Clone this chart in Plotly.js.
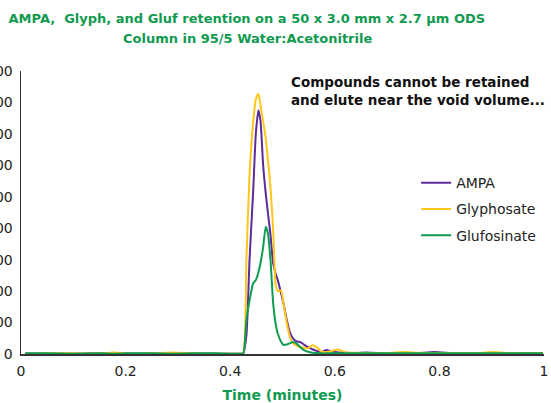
<!DOCTYPE html>
<html>
<head>
<meta charset="utf-8">
<script src="https://cdn.plot.ly/plotly-3.0.1.min.js"></script>
<style>html,body{margin:0;padding:0;background:#fff;}#chart{width:551px;height:403px;}</style>
</head>
<body>
<div id="chart"></div>
<script>
const timeMinutes = [0.008, 0.05, 0.1, 0.15, 0.18, 0.2, 0.25, 0.29, 0.33, 0.37, 0.4, 0.42, 0.425, 0.431, 0.437, 0.444, 0.449, 0.454, 0.458, 0.463, 0.468, 0.472, 0.477, 0.482, 0.487, 0.491, 0.497, 0.502, 0.508, 0.514, 0.52, 0.527, 0.534, 0.541, 0.549, 0.557, 0.565, 0.574, 0.584, 0.595, 0.607, 0.62, 0.64, 0.66, 0.7, 0.73, 0.76, 0.79, 0.83, 0.87, 0.9, 0.94, 0.998];
const ampa = [1, 1, 1, 2, 1, 1, 1, 2, 1, 1, 1, 1, 2, 60, 300, 520, 700, 775, 740, 600, 510, 450, 380, 290, 255, 235, 195, 160, 110, 70, 50, 40, 38, 30, 22, 15, 10, 6, 13, 8, 5, 4, 3, 5, 2, 2, 3, 6, 2, 2, 2, 2, 2];
const glyphosate = [1, 2, 2, 2, 5, 2, 2, 5, 2, 1, 1, 1, 3, 300, 570, 740, 810, 828, 790, 740, 685, 620, 530, 400, 220, 200, 202, 160, 100, 55, 35, 27, 22, 20, 18, 28, 22, 8, 6, 10, 14, 6, 4, 3, 3, 6, 4, 3, 3, 3, 6, 3, 2];
const glufosinate = [2, 2, 1, 2, 1, 2, 2, 1, 2, 2, 1, 1, 2, 110, 170, 225, 235, 260, 290, 340, 405, 385, 300, 165, 95, 65, 40, 29, 30, 34, 38, 33, 22, 12, 7, 4, 3, 2, 2, 2, 2, 2, 2, 2, 2, 2, 2, 2, 2, 2, 2, 2, 2];
const seriesNames = ["AMPA", "Glyphosate", "Glufosinate"];
const yTicks = [0, 100, 200, 300, 400, 500, 600, 700, 800, 900];
const xTicks = [0, 0.2, 0.4, 0.6, 0.8, 1];
const xTickText = ["0", "0.2", "0.4", "0.6", "0.8", "1"];
const titleLine1 = "AMPA,  Glyph, and Gluf retention on a 50 x 3.0 mm x 2.7 µm ODS";
const titleLine2 = "Column in 95/5 Water:Acetonitrile";

const colors = ["#5b2c9a", "#ffc61a", "#0f9b52"];
const values = [ampa, glyphosate, glufosinate];
const traces = values.map((v, i) => ({
  x: timeMinutes, y: v, type: "scatter", mode: "lines", name: seriesNames[i],
  legendgroup: "g" + i,
  line: {color: colors[i], width: 2, shape: "spline", smoothing: 0.6}
}));

const font = "DejaVu Sans, Verdana, sans-serif";
const green = "#109a50";
const layout = {
  width: 551, height: 403,
  margin: {l: 21, r: 7, t: 71, b: 49},
  paper_bgcolor: "#fff", plot_bgcolor: "#fff",
  font: {family: font, size: 14, color: "#222"},
  title: {
    text: titleLine1,
    font: {family: font, size: 13, color: green, weight: "bold"},
    x: 0.448, xanchor: "center", y: 1 - 18/403, yanchor: "middle", yref: "container"
  },
  showlegend: true,
  legend: {x: 0.7555, y: 0.66, xanchor: "left", yanchor: "top", bgcolor: "rgba(0,0,0,0)",
           font: {family: font, size: 14, color: "#222"}, tracegroupgap: 5},
  xaxis: {
    range: [0, 1], tickvals: xTicks, ticktext: xTickText, showgrid: false, zeroline: false,
    showline: true, linecolor: "#333", linewidth: 1.5, ticks: "", automargin: false,
    ticklabelstandoff: 4,
    tickfont: {family: font, size: 14, color: "#222"},
    title: {text: "Time (minutes)", font: {family: font, size: 14, color: green, weight: "bold"}, standoff: 14}
  },
  yaxis: {
    range: [0, 900], tickvals: yTicks, showgrid: false, zeroline: false,
    showline: true, linecolor: "#333", linewidth: 1.5, ticks: "", automargin: false,
    ticklabelstandoff: 4,
    tickfont: {family: font, size: 14, color: "#222"}
  },
  annotations: [{
    xref: "paper", yref: "paper", x: 0.513, y: 0.995, xanchor: "left", yanchor: "top", align: "left",
    text: "Compounds cannot be retained<br>and elute near the void volume...", showarrow: false,
    font: {family: font, size: 13.5, color: "#111", weight: "bold"}
  }, {
    xref: "paper", yref: "paper", x: (247 - 21) / 523, y: 1 + (71 - 38) / 283, xanchor: "center", yanchor: "middle",
    text: titleLine2, showarrow: false,
    font: {family: font, size: 13, color: green, weight: "bold"}
  }]
};
Plotly.newPlot("chart", traces, layout, {displayModeBar: false, staticPlot: true});
</script>
</body>
</html>
